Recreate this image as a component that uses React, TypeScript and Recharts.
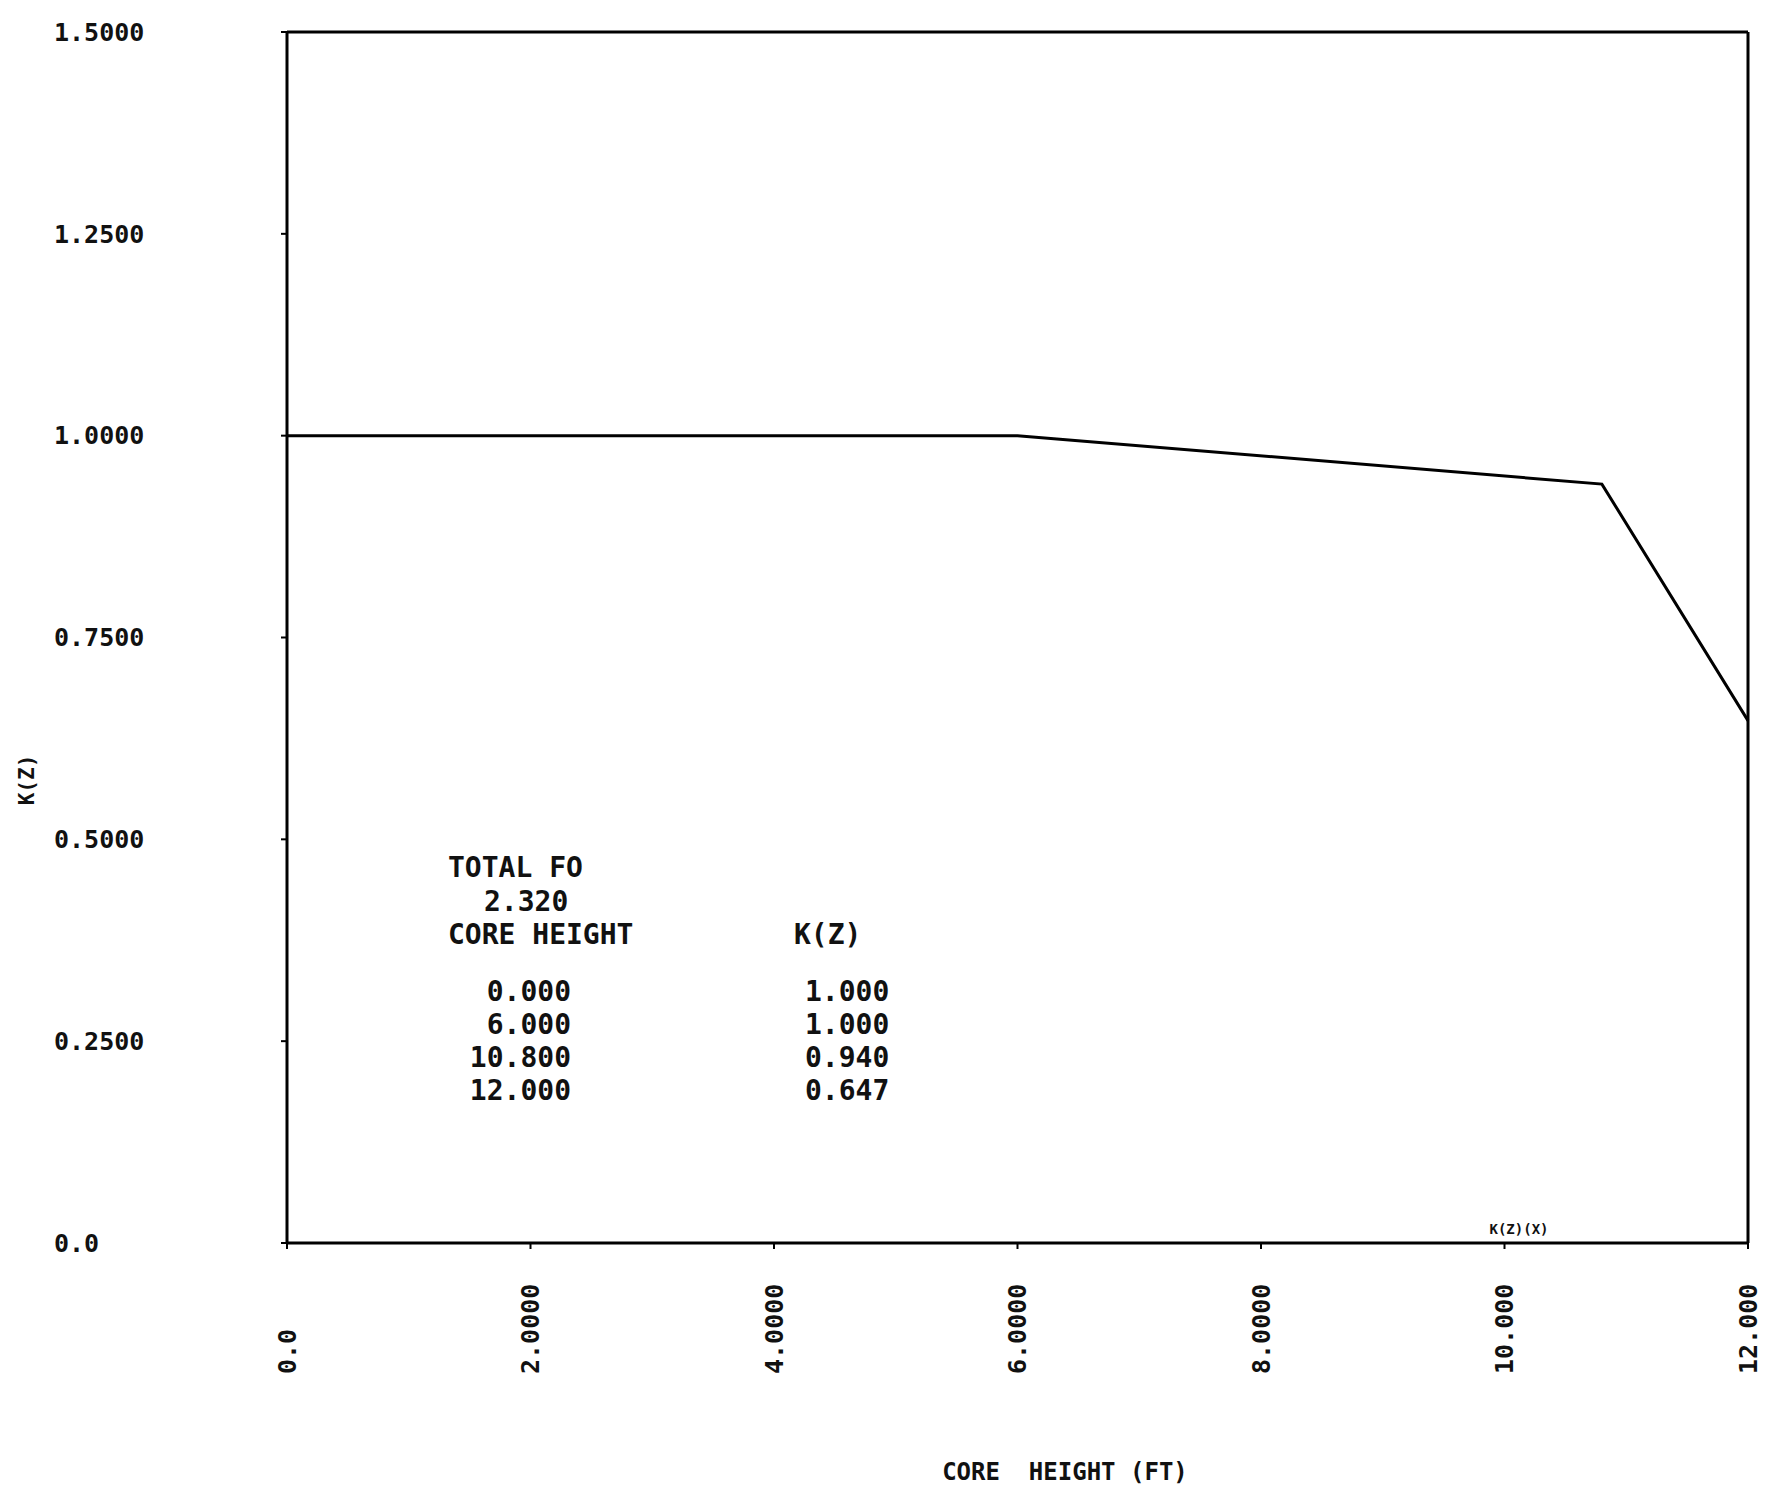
import React from 'react';
import { LineChart, Line, XAxis, YAxis } from 'recharts';

const coreHeight = [0, 6, 10.8, 12];
const kz = [1.0, 1.0, 0.94, 0.647];

const xTicks = [0, 2, 4, 6, 8, 10, 12];
const xTickLabels = ['0.0', '2.0000', '4.0000', '6.0000', '8.0000', '10.000', '12.000'];
const yTicks = [0, 0.25, 0.5, 0.75, 1.0, 1.25, 1.5];
const yTickLabels = ['0.0', '0.2500', '0.5000', '0.7500', '1.0000', '1.2500', '1.5000'];

const summaryTitle = 'TOTAL FO';
const summaryValue = '2.320';
const tableHeadX = 'CORE HEIGHT';
const tableHeadY = 'K(Z)';
const tableX = ['0.000', '6.000', '10.800', '12.000'];
const tableY = ['1.000', '1.000', '0.940', '0.647'];

const data = coreHeight.map((h, i) => ({ h, k: kz[i] }));

const FONT = '"DejaVu Sans Mono", monospace';

const YTick = (props: any) => {
  const { y, payload } = props;
  const i = yTicks.indexOf(payload.value);
  return (
    <text x={54} y={y} dy="0.35em" textAnchor="start" fontFamily={FONT} fontWeight="bold" fontSize={25} fill="#111">
      {yTickLabels[i]}
    </text>
  );
};

const XTick = (props: any) => {
  const { x, payload } = props;
  const i = xTicks.indexOf(payload.value);
  const by = 1374;
  return (
    <text
      x={x}
      y={by}
      dy="0.35em"
      textAnchor="start"
      transform={`rotate(-90, ${x}, ${by})`}
      fontFamily={FONT}
      fontWeight="bold"
      fontSize={25}
      fill="#111"
    >
      {xTickLabels[i]}
    </text>
  );
};

const txt = { fontFamily: FONT, fontWeight: 'bold' as const, fontSize: 28, fill: '#111', dominantBaseline: 'central' as const };

export default function App() {
  return (
    <div style={{ position: 'absolute', left: 0, top: 0, width: 1765, height: 1490, background: '#fff' }}>
      <LineChart width={1765} height={1490} data={data} margin={{ top: 31, right: 16, bottom: 0, left: 57 }}>
        <XAxis
          xAxisId="b"
          dataKey="h"
          type="number"
          domain={[0, 12]}
          ticks={xTicks}
          height={247}
          axisLine={{ stroke: '#000', strokeWidth: 3 }}
          tickLine={{ stroke: '#000', strokeWidth: 2 }}
          tickSize={6}
          tick={<XTick />}
          interval={0}
        />
        <XAxis
          xAxisId="t"
          orientation="top"
          dataKey="h"
          type="number"
          domain={[0, 12]}
          ticks={xTicks}
          height={1}
          axisLine={{ stroke: '#000', strokeWidth: 3 }}
          tickLine={{ stroke: '#000', strokeWidth: 2 }}
          tickSize={6}
          tick={false}
        />
        <YAxis
          yAxisId="l"
          type="number"
          domain={[0, 1.5]}
          ticks={yTicks}
          width={230}
          axisLine={{ stroke: '#000', strokeWidth: 3 }}
          tickLine={{ stroke: '#000', strokeWidth: 2 }}
          tickSize={6}
          tick={<YTick />}
          interval={0}
        />
        <YAxis
          yAxisId="r"
          orientation="right"
          type="number"
          domain={[0, 1.5]}
          ticks={yTicks}
          width={1}
          axisLine={{ stroke: '#000', strokeWidth: 3 }}
          tickLine={{ stroke: '#000', strokeWidth: 2 }}
          tickSize={6}
          tick={false}
        />
        <Line
          xAxisId="b"
          yAxisId="l"
          type="linear"
          dataKey="k"
          stroke="#000"
          strokeWidth={3}
          dot={false}
          isAnimationActive={false}
        />
        <text x={27} y={780} textAnchor="middle" dominantBaseline="central" transform="rotate(-90, 27, 780)" fontFamily={FONT} fontWeight="bold" fontSize={21} fill="#111">
          K(Z)
        </text>
        <text x={1065} y={1472} textAnchor="middle" dominantBaseline="central" fontFamily={FONT} fontWeight="bold" fontSize={24} fill="#111" style={{ whiteSpace: 'pre' }}>
          {'CORE  HEIGHT (FT)'}
        </text>
        <text x={1519} y={1234} textAnchor="middle" fontFamily={FONT} fontWeight="bold" fontSize={14} fill="#111">
          K(Z)(X)
        </text>
        <text x={448} y={867} textAnchor="start" {...txt}>{summaryTitle}</text>
        <text x={484} y={901} textAnchor="start" {...txt}>{summaryValue}</text>
        <text x={448} y={934} textAnchor="start" {...txt}>{tableHeadX}</text>
        <text x={794} y={934} textAnchor="start" {...txt}>{tableHeadY}</text>
        {tableX.map((v, i) => (
          <text key={'x' + i} x={571} y={991 + i * 33} textAnchor="end" {...txt}>{v}</text>
        ))}
        {tableY.map((v, i) => (
          <text key={'y' + i} x={805} y={991 + i * 33} textAnchor="start" {...txt}>{v}</text>
        ))}
      </LineChart>
    </div>
  );
}
